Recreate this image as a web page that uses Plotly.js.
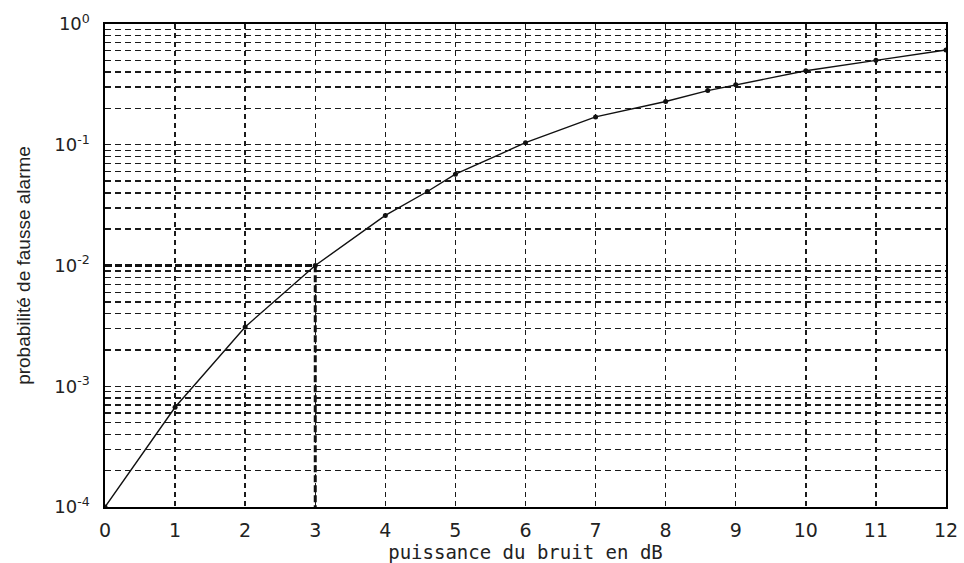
<!DOCTYPE html>
<html>
<head>
<meta charset="utf-8">
<script src="https://cdn.plot.ly/plotly-3.0.1.min.js"></script>
<style>html,body{margin:0;padding:0;background:#fff;}#chart{width:964px;height:563px;}</style>
</head>
<body>
<div id="chart"></div>
<script>
// Noise power (dB) and false-alarm probability
const noiseDb = [0, 1, 2, 3, 4, 4.6, 5, 6, 7, 8, 8.6, 9, 10, 11, 12];
const pFalseAlarm = [1e-4, 6.7e-4, 3.1e-3, 1e-2, 0.026, 0.041, 0.057, 0.104, 0.17, 0.228, 0.281, 0.314, 0.41, 0.5, 0.61];

// Reading guide: Pfa = 1e-2 reached at 3 dB
const guideX = [0, 3, 3];
const guideY = [1e-2, 1e-2, 1e-4];

const xTickVals = [0, 1, 2, 3, 4, 5, 6, 7, 8, 9, 10, 11, 12];
const xTickText = ['0', '1', '2', '3', '4', '5', '6', '7', '8', '9', '10', '11', '12'];
const yTickVals = [1e-4, 1e-3, 1e-2, 1e-1, 1];
const yTickText = ['10<sup>-4</sup>', '10<sup>-3</sup>', '10<sup>-2</sup>', '10<sup>-1</sup>', '10<sup>0</sup>'];

const gridColor = '#1a1a1a';

const traces = [
  {
    x: guideX, y: guideY, type: 'scatter', mode: 'lines',
    line: {color: '#111', width: 3, dash: '7px,3px'},
    hoverinfo: 'skip', showlegend: false
  },
  {
    x: noiseDb, y: pFalseAlarm, type: 'scatter', mode: 'lines+markers',
    line: {color: '#111', width: 1.4},
    marker: {color: '#111', size: 5},
    showlegend: false
  }
];

const layout = {
  width: 964, height: 563,
  margin: {l: 105, r: 18, t: 24, b: 56},
  paper_bgcolor: '#fff', plot_bgcolor: '#fff',
  showlegend: false,
  xaxis: {
    range: [0, 12], tickmode: 'array', tickvals: xTickVals, ticktext: xTickText,
    showgrid: true, gridcolor: gridColor, gridwidth: 1.4, griddash: '5px,4px',
    zeroline: false, showline: true, mirror: true, linecolor: '#000', linewidth: 1.6,
    ticks: '', ticklabelstandoff: 6,
    tickfont: {family: 'DejaVu Sans', size: 19, color: '#222'},
    title: {text: 'puissance du bruit en dB', font: {family: 'DejaVu Sans Mono', size: 19, color: '#222'}, standoff: 4}
  },
  yaxis: {
    type: 'log', range: [-4, 0], tickmode: 'array', tickvals: yTickVals, ticktext: yTickText,
    showgrid: true, gridcolor: gridColor, gridwidth: 1.4, griddash: '6px,4px',
    minor: {dtick: 'D1', showgrid: true, gridcolor: gridColor, gridwidth: 1.4, griddash: '6px,4px', ticks: ''},
    zeroline: false, showline: true, mirror: true, linecolor: '#000', linewidth: 1.6,
    ticks: '', ticklabelstandoff: 10,
    tickfont: {family: 'DejaVu Sans', size: 18, color: '#222'},
    title: {text: 'probabilité de fausse alarme', font: {family: 'Liberation Sans, Arial', size: 19, color: '#222'}, standoff: 18}
  }
};

Plotly.newPlot('chart', traces, layout, {staticPlot: true, displayModeBar: false});
</script>
</body>
</html>
